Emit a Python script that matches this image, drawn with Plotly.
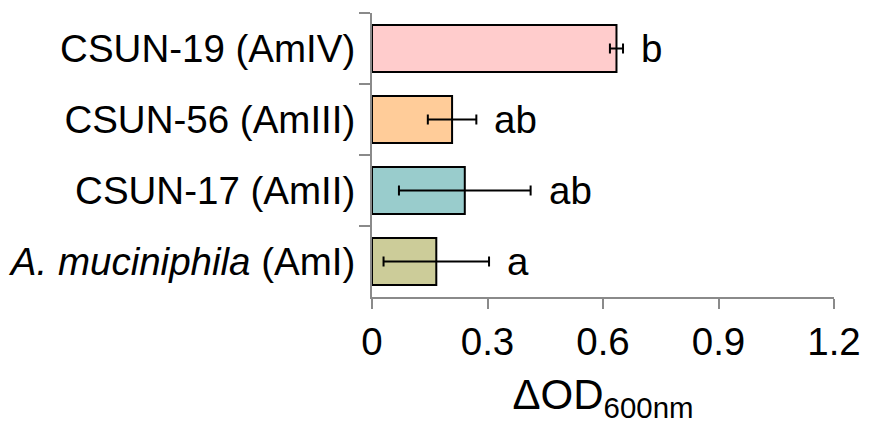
import plotly.graph_objects as go

categories = ["CSUN-19 (AmIV)", "CSUN-56 (AmIII)", "CSUN-17 (AmII)", "<i>A. muciniphila</i> (AmI)"]
values = [0.635, 0.208, 0.241, 0.167]
errors = [0.017, 0.063, 0.171, 0.137]
letters = ["b", "ab", "ab", "a"]
colors = ["#FFCCCC", "#FFCC99", "#99CCCC", "#CCCC99"]
x_ticks = [0, 0.3, 0.6, 0.9, 1.2]
x_ticklabels = ["0", "0.3", "0.6", "0.9", "1.2"]

FONT = "Arial, Liberation Sans, sans-serif"
AXIS = "#8A8A8A"
FS = 38.5

fig = go.Figure()
fig.add_trace(go.Bar(
    y=categories, x=values, orientation="h",
    marker=dict(color=colors, line=dict(color="black", width=2)),
    error_x=dict(type="data", array=errors, color="black", thickness=2, width=5),
    showlegend=False,
))

for c, v, e, t in zip(categories, values, errors, letters):
    fig.add_annotation(x=v + e, y=c, text=t, showarrow=False, xanchor="left",
                       xshift=16, font=dict(size=FS, color="black", family=FONT))

fig.update_layout(
    width=878, height=416,
    margin=dict(l=364, r=52, t=5, b=127),
    plot_bgcolor="white", paper_bgcolor="white",
    bargap=0.34,
    font=dict(family=FONT, size=FS, color="black"),
)
fig.update_xaxes(
    range=[0, 1.2], tickvals=x_ticks, ticktext=x_ticklabels,
    showline=True, linecolor=AXIS, linewidth=2,
    ticks="outside", ticklen=10, tickwidth=2, tickcolor=AXIS,
    showgrid=False, zeroline=False, automargin=False,
    tickfont=dict(size=FS, family=FONT, color="black"),
    title=dict(text="ΔOD<sub>600nm</sub>", font=dict(size=42, family=FONT, color="black"), standoff=22),
)
fig.update_yaxes(
    autorange="reversed", type="category",
    showline=True, linecolor=AXIS, linewidth=2,
    ticks="outside", ticklen=11, tickwidth=2, tickcolor=AXIS, tickson="boundaries",
    ticklabelstandoff=7, automargin=False,
    showgrid=False, zeroline=False,
    tickfont=dict(size=FS, family=FONT, color="black"),
)

fig.write_html("out.html")
